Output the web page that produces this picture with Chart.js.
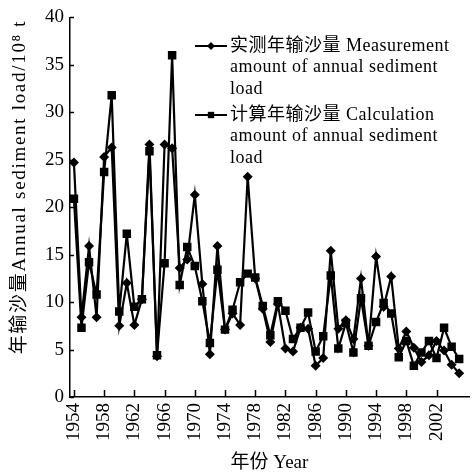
<!DOCTYPE html>
<html>
<head>
<meta charset="utf-8">
<script src="https://cdn.jsdelivr.net/npm/chart.js@4/dist/chart.umd.min.js"></script>
<style>
  html, body { margin: 0; padding: 0; background: #fff; }
  canvas { display: block; }
</style>
</head>
<body>
<canvas id="chart" width="475" height="474"></canvas>
<script>
// Years of record
const years = [
  1954, 1955, 1956, 1957, 1958, 1959, 1960, 1961, 1962, 1963,
  1964, 1965, 1966, 1967, 1968, 1969, 1970, 1971, 1972, 1973,
  1974, 1975, 1976, 1977, 1978, 1979, 1980, 1981, 1982, 1983,
  1984, 1985, 1986, 1987, 1988, 1989, 1990, 1991, 1992, 1993,
  1994, 1995, 1996, 1997, 1998, 1999, 2000, 2001, 2002, 2003,
  2004, 2005
];

// Measured annual sediment load (10^8 t)
const measured = [
  24.7, 8.4, 15.9, 8.4, 25.3, 26.3, 7.5, 12.0, 7.6, 10.3,
  26.6, 4.3, 26.6, 26.2, 13.6, 14.5, 21.3, 11.9, 4.5, 15.9,
  7.1, 8.8, 7.6, 23.2, 12.5, 9.3, 5.8, 9.8, 5.1, 4.8,
  7.3, 7.2, 3.3, 4.1, 15.4, 7.2, 8.1, 6.1, 12.5, 5.4,
  14.8, 9.5, 12.7, 5.1, 6.9, 5.2, 3.7, 4.4, 5.9, 4.9,
  3.4, 2.5
];

// Calculated annual sediment load (10^8 t)
const calculated = [
  20.9, 7.3, 14.2, 10.8, 23.7, 31.8, 9.0, 17.2, 9.5, 10.3,
  25.9, 4.4, 14.1, 36.0, 11.8, 15.8, 13.8, 10.1, 5.7, 13.4,
  7.1, 9.2, 12.1, 13.0, 12.6, 9.6, 6.5, 10.1, 9.1, 6.1,
  7.3, 8.9, 4.8, 6.4, 12.8, 5.1, 7.8, 4.7, 10.4, 5.4,
  7.9, 9.9, 8.8, 4.2, 5.9, 3.3, 4.7, 5.9, 4.1, 7.3,
  5.3, 4.0
];

// Tick labels
const xTickYears = [1954, 1958, 1962, 1966, 1970, 1974, 1978, 1982, 1986, 1990, 1994, 1998, 2002];
const yTickValues = [0, 5, 10, 15, 20, 25, 30, 35, 40];

const legendMeasured = ['实测年输沙量 Measurement', 'amount of annual sediment', 'load'];
const legendCalculated = ['计算年输沙量 Calculation', 'amount of annual sediment', 'load'];
const xTitle = '年份 Year';
const yTitle = '年输沙量Annual sediment load/10⁸ t';

const SERIF = '"Liberation Serif", "Times New Roman", "Noto Sans CJK SC", serif';

// Inner tick marks, rotated y title and the in-plot legend
const overlay = {
  id: 'overlay',
  afterDraw(chart) {
    const ctx = chart.ctx;
    const area = chart.chartArea;
    const xs = chart.scales.x, ys = chart.scales.y;
    ctx.save();
    ctx.strokeStyle = '#000';
    ctx.lineWidth = 1.5;
    ctx.beginPath();
    xs.ticks.forEach(t => {
      const px = Math.round(xs.getPixelForValue(t.value)) + 0.5;
      ctx.moveTo(px, area.bottom);
      ctx.lineTo(px, area.bottom - 7);
    });
    ys.ticks.forEach(t => {
      const py = Math.round(ys.getPixelForValue(t.value)) + 0.5;
      ctx.moveTo(area.left, py);
      ctx.lineTo(area.left + 4, py);
    });
    ctx.stroke();

    // y axis title
    ctx.save();
    ctx.translate(20, 187);
    ctx.rotate(-Math.PI / 2);
    ctx.fillStyle = '#000';
    ctx.font = '19px ' + SERIF;
    ctx.textAlign = 'center';
    ctx.textBaseline = 'middle';
    ctx.letterSpacing = '1.7px';
    ctx.fillText(yTitle, 0, 0);
    ctx.restore();

    // legend
    const drawEntry = (style, radius, lines, y0) => {
      const x0 = 195, x1 = 227;
      ctx.strokeStyle = '#000';
      ctx.fillStyle = '#000';
      ctx.lineWidth = 2;
      ctx.beginPath();
      ctx.moveTo(x0, y0);
      ctx.lineTo(x1, y0);
      ctx.stroke();
      Chart.helpers.drawPoint(ctx, { pointStyle: style, radius: radius, rotation: 0, borderWidth: 0 }, (x0 + x1) / 2, y0);
      ctx.save();
      ctx.font = '18px ' + SERIF;
      ctx.textAlign = 'left';
      ctx.textBaseline = 'middle';
      ctx.letterSpacing = '0.5px';
      lines.forEach((s, i) => ctx.fillText(s, 230, y0 + i * 21.5));
      ctx.restore();
    };
    drawEntry('rectRot', 4, legendMeasured, 46);
    drawEntry('rect', 4.5, legendCalculated, 115);
    ctx.restore();
  }
};

const points = vals => years.map((yr, i) => ({ x: yr, y: vals[i] }));

new Chart(document.getElementById('chart'), {
  type: 'line',
  data: {
    datasets: [
      {
        label: legendMeasured.join(' '),
        data: points(measured),
        borderColor: '#000',
        backgroundColor: '#000',
        borderWidth: 2.2,
        pointStyle: 'rectRot',
        pointRadius: 5,
        pointBorderWidth: 0,
        tension: 0,
        order: 1
      },
      {
        label: legendCalculated.join(' '),
        data: points(calculated),
        borderColor: '#000',
        backgroundColor: '#000',
        borderWidth: 2.2,
        pointStyle: 'rect',
        pointRadius: 6,
        pointBorderWidth: 0,
        tension: 0,
        order: 0
      }
    ]
  },
  options: {
    responsive: false,
    animation: false,
    devicePixelRatio: 1,
    layout: { padding: { top: 16, left: 0, right: 0, bottom: 0 } },
    plugins: { legend: { display: false }, tooltip: { enabled: false } },
    scales: {
      x: {
        type: 'linear',
        min: 1953.48,
        max: 2006.3,
        grid: { display: false, drawTicks: false },
        border: { display: true, color: '#000', width: 1.5 },
        afterBuildTicks: s => { s.ticks = xTickYears.map(v => ({ value: v })); },
        afterFit: s => { s.height = 77; },
        ticks: {
          autoSkip: false,
          minRotation: 90,
          maxRotation: 90,
          padding: 6,
          color: '#000',
          font: { family: SERIF, size: 19 },
          callback: v => String(v)
        },
        title: {
          display: true,
          text: xTitle,
          color: '#000',
          font: { family: SERIF, size: 19 },
          padding: { top: 0, bottom: 0 }
        }
      },
      y: {
        min: 0,
        max: 40,
        grid: { display: false, drawTicks: false },
        border: { display: true, color: '#000', width: 1.5 },
        afterBuildTicks: s => { s.ticks = yTickValues.map(v => ({ value: v })); },
        afterFit: s => { s.width = 70; },
        ticks: {
          padding: 6,
          color: '#000',
          font: { family: SERIF, size: 19 },
          callback: v => String(v)
        }
      }
    }
  },
  plugins: [overlay]
});
</script>
</body>
</html>
